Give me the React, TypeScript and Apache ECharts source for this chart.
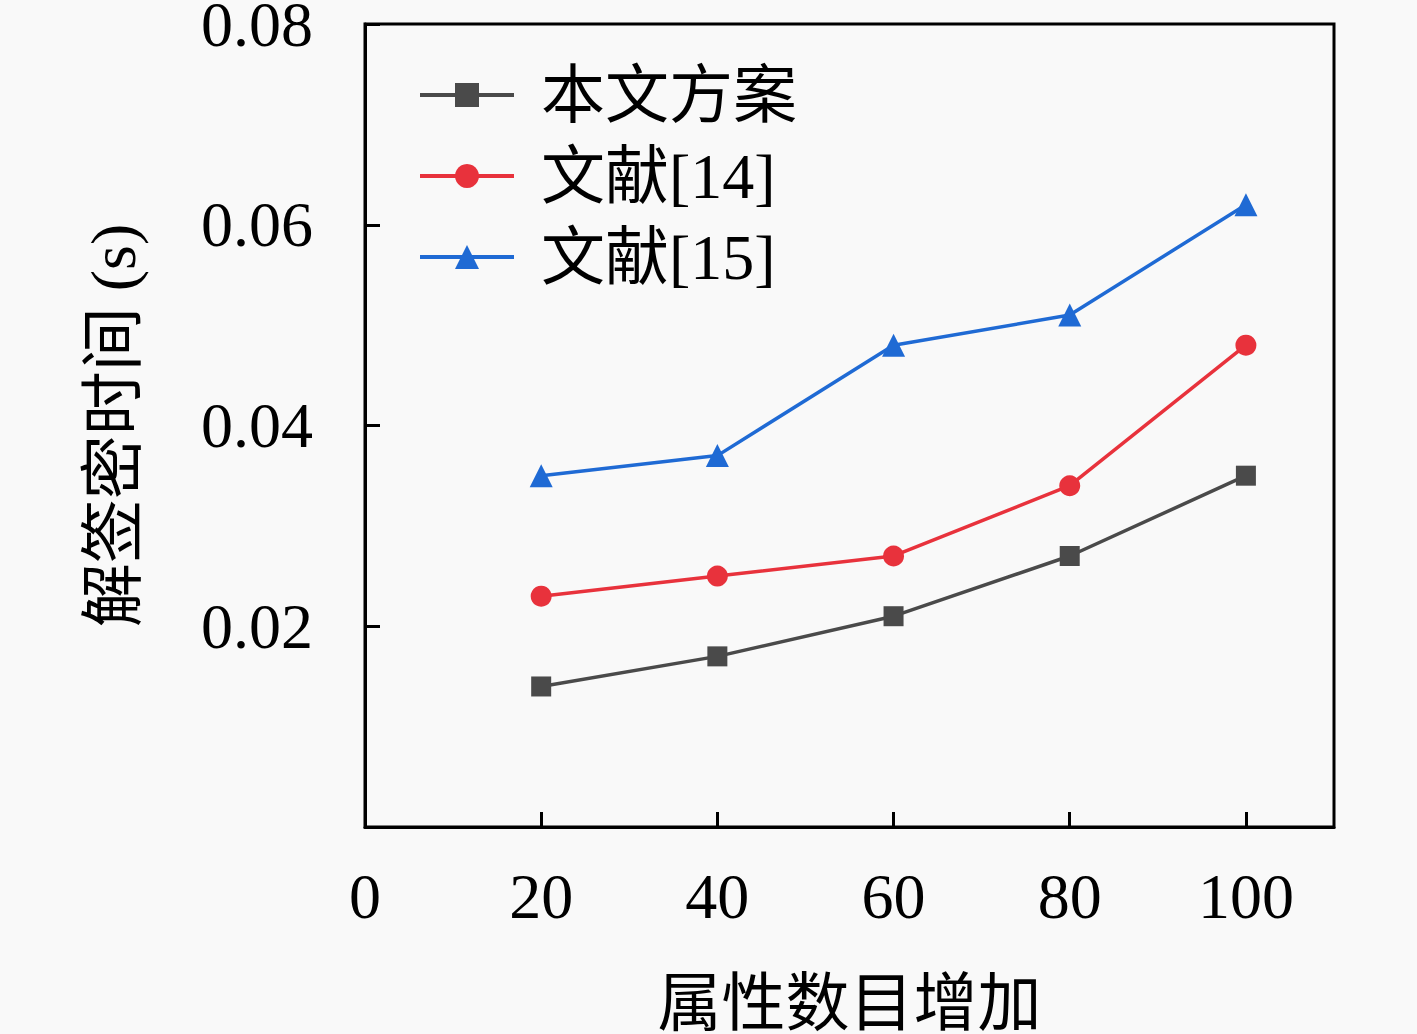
import React, { useEffect, useRef } from "react";
import * as echarts from "echarts";

// x positions (number of attributes)
const attrCounts = [20, 40, 60, 80, 100];
// decryption time (s)
const oursTimes = [0.014, 0.017, 0.021, 0.027, 0.035];
const ref14Times = [0.023, 0.025, 0.027, 0.034, 0.048];
const ref15Times = [0.035, 0.037, 0.048, 0.051, 0.062];

const seriesNames = ["本文方案", "文献[14]", "文献[15]"];
const xAxisName = "属性数目增加";
const yAxisName = "解签密时间 (s)";

const FONT = "'Liberation Serif', 'Noto Sans CJK SC', serif";

const pairs = (ys: number[]) => attrCounts.map((x, i) => [x, ys[i]]);

const App = () => {
  const chartRef = useRef<HTMLDivElement>(null);

  useEffect(() => {
    if (!chartRef.current) return;
    const chart = echarts.init(chartRef.current, undefined, { renderer: "svg" });

    const line = (name: string, data: number[], color: string, symbol: string, size: number) => ({
      name,
      type: "line",
      data: pairs(data),
      symbol,
      symbolSize: size,
      lineStyle: { color, width: 3.5 },
      itemStyle: { color },
    });

    chart.setOption({
      animation: false,
      backgroundColor: "#f9f9f9",
      textStyle: { fontFamily: FONT },
      grid: {
        left: 365,
        top: 24,
        right: 83,
        bottom: 207,
        outerBoundsMode: "none",
        containLabel: false,
        show: true,
        borderColor: "#000",
        borderWidth: 3,
      },
      legend: {
        left: 418,
        top: 63,
        padding: 0,
        orient: "vertical",
        itemWidth: 94,
        itemHeight: 30,
        itemGap: 17,
        data: seriesNames,
        lineStyle: { width: 4 },
        textStyle: {
          fontFamily: FONT,
          fontSize: 64,
          lineHeight: 64,
          color: "#000",
          padding: [0, 0, 0, 22],
        },
      },
      xAxis: {
        type: "value",
        min: 0,
        max: 110,
        interval: 20,
        name: xAxisName,
        nameLocation: "middle",
        nameGap: 144,
        nameTextStyle: { fontFamily: FONT, fontSize: 64, color: "#000" },
        axisLine: { lineStyle: { color: "#000", width: 3 } },
        axisTick: { inside: true, length: 15, lineStyle: { color: "#000", width: 3 } },
        axisLabel: {
          showMaxLabel: false,
          margin: 37,
          fontFamily: FONT,
          fontSize: 64,
          color: "#000",
        },
        splitLine: { show: false },
      },
      yAxis: {
        type: "value",
        min: 0,
        max: 0.08,
        interval: 0.02,
        name: yAxisName,
        nameLocation: "middle",
        nameRotate: 90,
        nameGap: 220,
        nameTextStyle: { fontFamily: FONT, fontSize: 64, color: "#000" },
        axisLine: { lineStyle: { color: "#000", width: 3 } },
        axisTick: { inside: true, length: 15, lineStyle: { color: "#000", width: 3 } },
        axisLabel: {
          showMinLabel: false,
          margin: 52,
          fontFamily: FONT,
          fontSize: 64,
          color: "#000",
          formatter: (v: number) => v.toFixed(2),
        },
        splitLine: { show: false },
      },
      series: [
        line(seriesNames[0], oursTimes, "#4a4a4a", "rect", 20),
        line(seriesNames[1], ref14Times, "#e8323c", "circle", 21),
        line(seriesNames[2], ref15Times, "#1f6ad4", "triangle", 23),
      ],
    });

    return () => chart.dispose();
  }, []);

  return (
    <div
      ref={chartRef}
      style={{ position: "absolute", left: 0, top: 0, width: 1417, height: 1034 }}
    />
  );
};

export default App;
